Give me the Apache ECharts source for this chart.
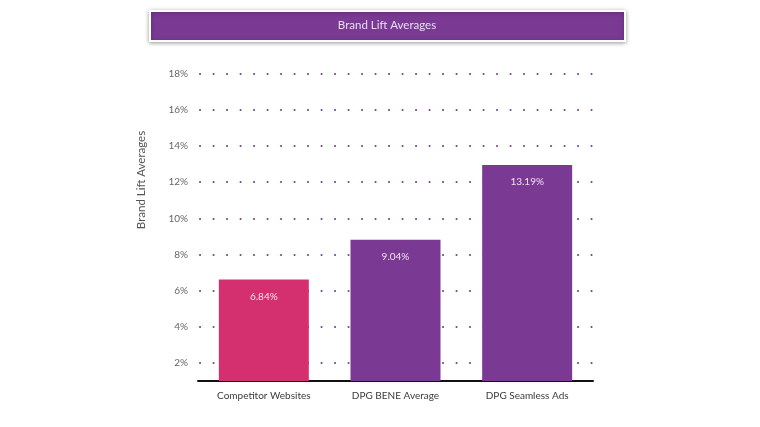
<!DOCTYPE html>
<html>
<head>
<meta charset="utf-8">
<script src="https://cdn.jsdelivr.net/npm/echarts@6/dist/echarts.min.js"></script>
<style>
html,body{margin:0;padding:0;background:#fff;}
#chart{width:760px;height:427px;}
</style>
</head>
<body>
<div id="chart"></div>
<script>
var titleText = 'Brand Lift Averages';
var yAxisTitle = 'Brand Lift Averages';
var categories = ['Competitor Websites', 'DPG BENE Average', 'DPG Seamless Ads'];
var values = [6.84, 9.04, 13.19];
var valueLabels = ['6.84%', '9.04%', '13.19%'];
var tickValues = [2, 4, 6, 8, 10, 12, 14, 16, 18];
var tickLabels = ['2%', '4%', '6%', '8%', '10%', '12%', '14%', '16%', '18%'];

var barColors = ['#d4306f', '#7a3a94', '#7a3a94'];
var FONT = 'Lato, "Noto Sans", sans-serif';

var chart = echarts.init(document.getElementById('chart'), null, {renderer: 'canvas'});
chart.setOption({
  backgroundColor: '#ffffff',
  animation: false,
  grid: [
    {left: 200, right: 164, top: 73.6, bottom: 427 - 363.2},
    {left: 198, right: 167, top: 78.4, bottom: 427 - 381}
  ],
  xAxis: [
    {gridIndex: 0, type: 'category', data: categories, show: false},
    {
      gridIndex: 1, type: 'category', data: categories,
      axisLine: {show: true, lineStyle: {color: '#111', width: 2}},
      axisTick: {show: false},
      axisLabel: {color: '#3a3a3a', fontSize: 10, fontFamily: FONT, margin: 10}
    }
  ],
  yAxis: [
    {
      gridIndex: 0, type: 'value', min: tickValues[0], max: tickValues[tickValues.length - 1], interval: 2,
      axisLine: {show: false}, axisTick: {show: false},
      axisLabel: {
        color: '#666', fontSize: 10, fontFamily: FONT, margin: 12,
        formatter: function (v) {
          var i = tickValues.indexOf(v);
          return i >= 0 ? tickLabels[i] : '';
        }
      },
      splitLine: {show: true, lineStyle: {color: '#7b3f95', width: 2, type: [0.1, 13.4], cap: 'round'}}
    },
    {
      gridIndex: 1, type: 'value', min: 1.2, max: 18, show: false,
      splitLine: {show: false}
    }
  ],
  series: [{
    type: 'bar',
    xAxisIndex: 1, yAxisIndex: 1,
    data: values,
    barWidth: 90,
    itemStyle: {
      color: function (p) { return barColors[p.dataIndex]; }
    },
    label: {
      show: true, position: 'insideTop', distance: 12,
      color: '#f2e0ee', fontSize: 10, fontFamily: FONT,
      formatter: function (p) { return valueLabels[p.dataIndex]; }
    }
  }],
  graphic: [
    {
      type: 'rect', left: 149, top: 10, z: 10,
      shape: {width: 475, height: 30},
      style: {fill: '#7a3a94', stroke: '#ffffff', lineWidth: 2,
        shadowBlur: 4, shadowColor: 'rgba(0,0,0,0.35)', shadowOffsetX: 0, shadowOffsetY: 1}
    },
    {
      type: 'text', z: 11,
      x: 387, y: 25,
      style: {text: titleText, fill: '#eadcf2', font: '11.5px ' + FONT, textAlign: 'center', textVerticalAlign: 'middle'}
    },
    {
      type: 'text', z: 11,
      x: 141, y: 180, rotation: Math.PI / 2,
      style: {text: yAxisTitle, fill: '#555', font: '11.5px ' + FONT, textAlign: 'center', textVerticalAlign: 'middle'}
    }
  ]
});
</script>
</body>
</html>
